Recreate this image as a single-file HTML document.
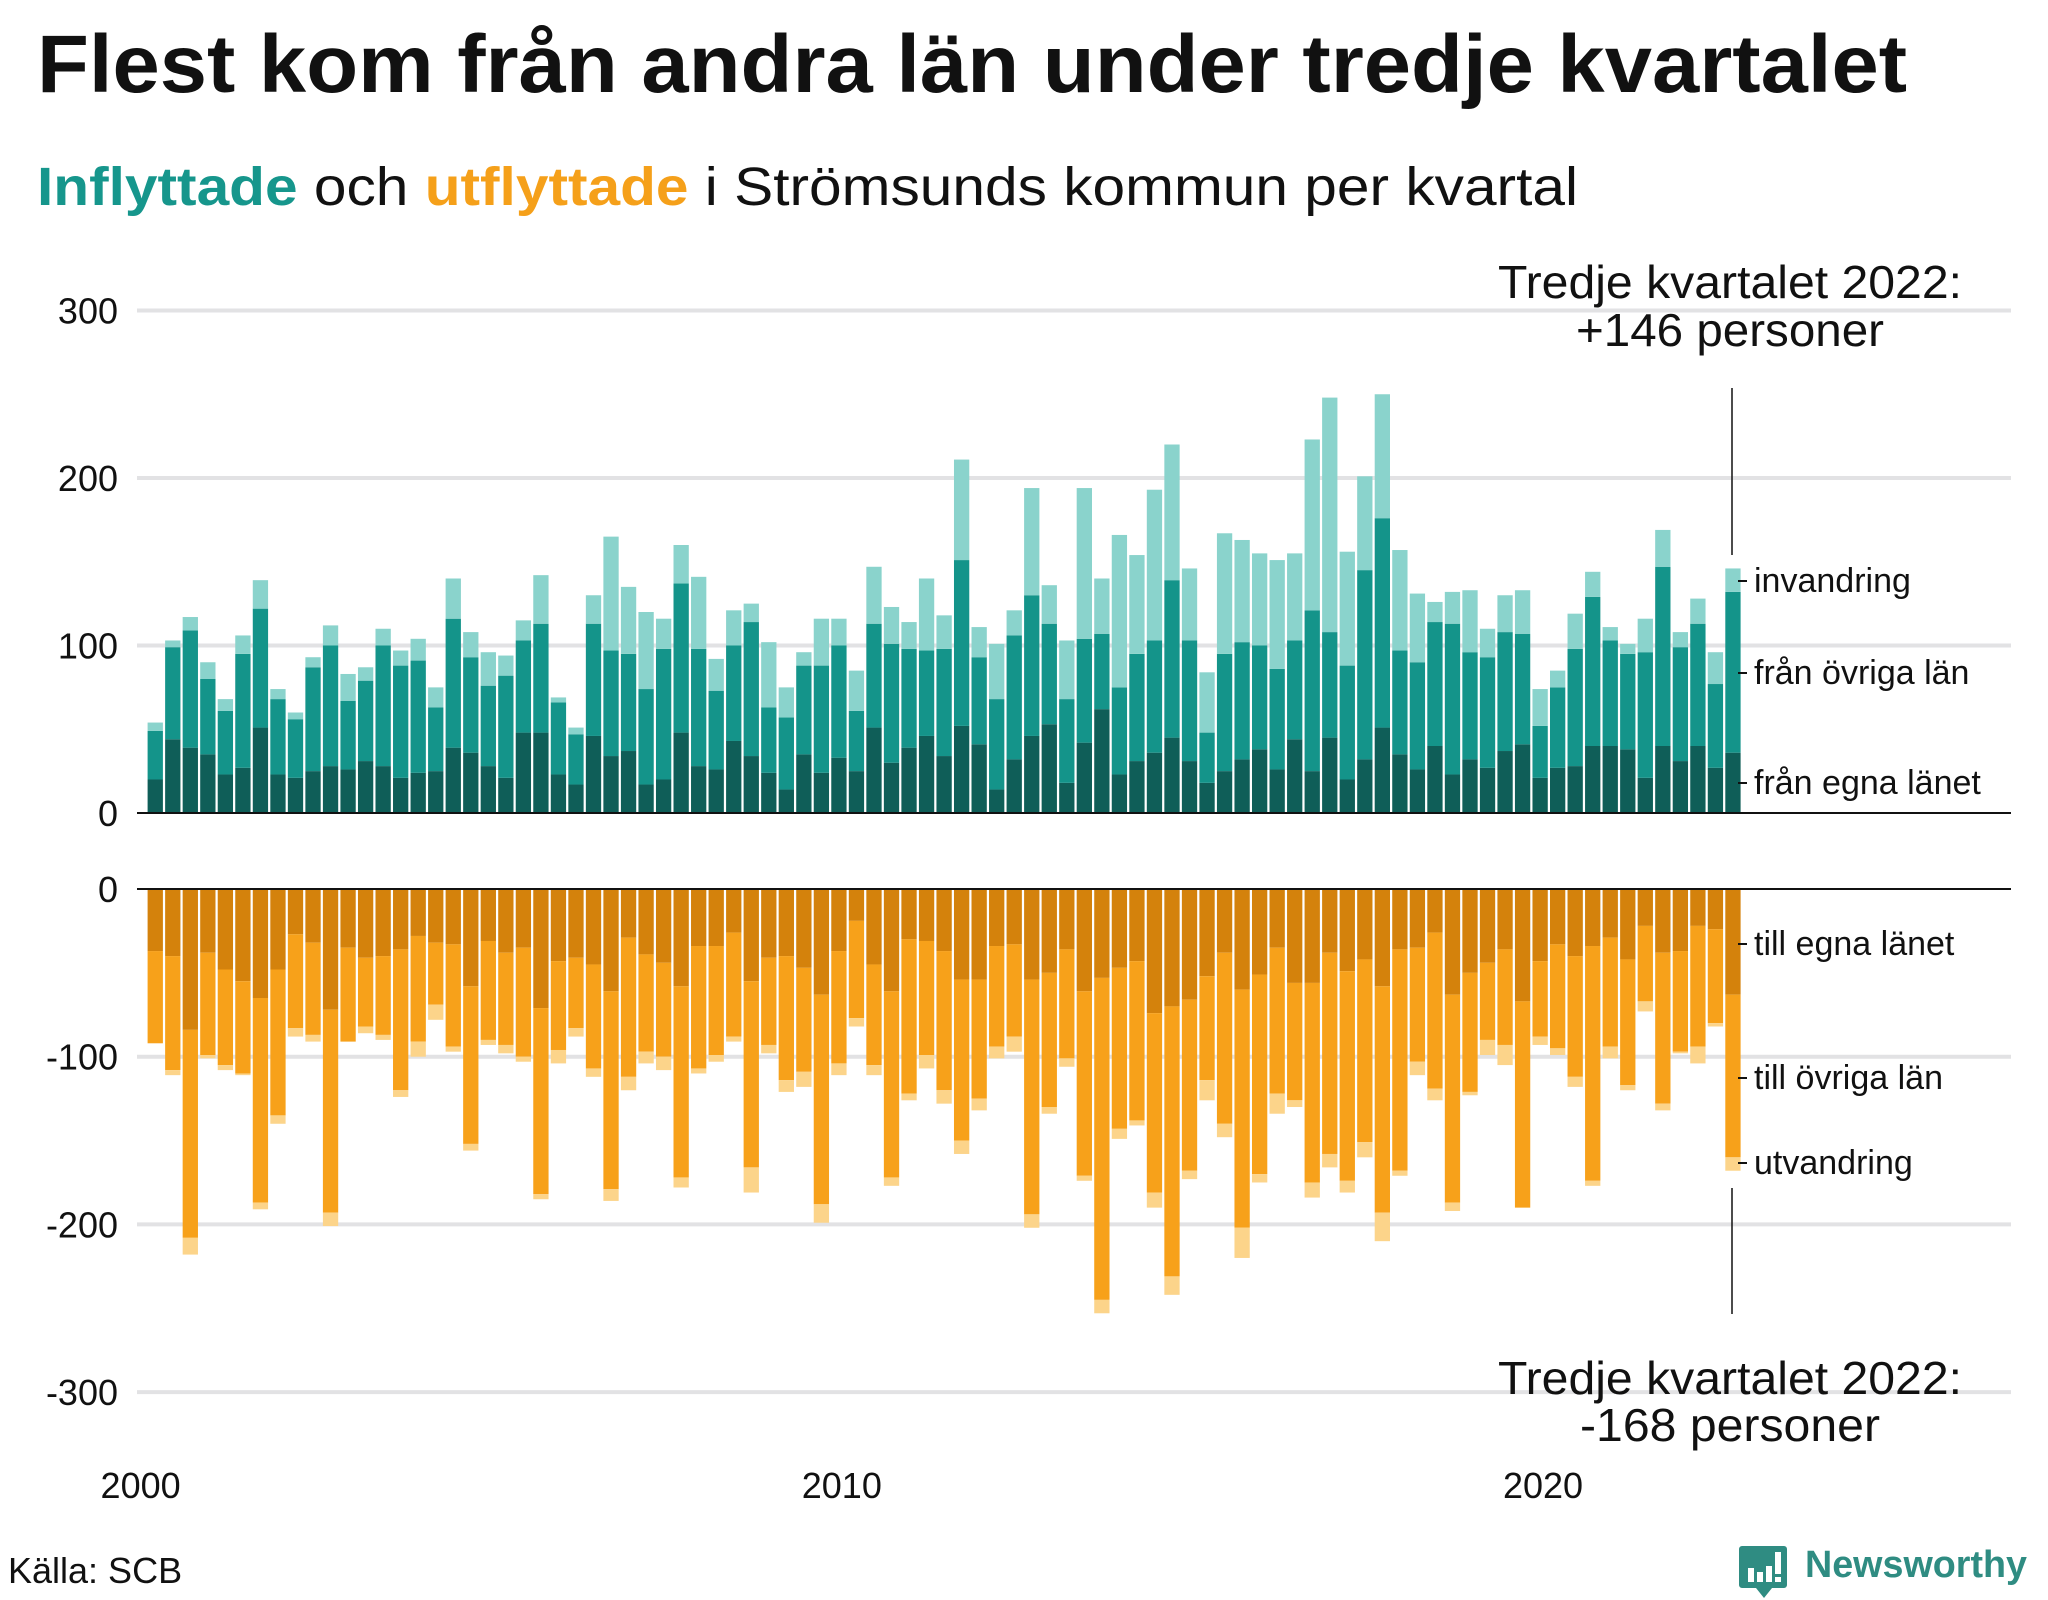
<!DOCTYPE html>
<html><head><meta charset="utf-8">
<style>
html,body{margin:0;padding:0;background:#fff;}
svg{display:block;font-family:"Liberation Sans",sans-serif;}
</style></head>
<body>
<svg id="chart" width="2048" height="1600" viewBox="0 0 2048 1600" xmlns="http://www.w3.org/2000/svg">
<text x="37" y="92" font-size="82" font-weight="bold" fill="#111" textLength="1870" lengthAdjust="spacingAndGlyphs">Flest kom från andra län under tredje kvartalet</text>
<text x="37" y="205" font-size="54" fill="#111" textLength="1541" lengthAdjust="spacingAndGlyphs"><tspan fill="#16968c" font-weight="bold">Inflyttade</tspan> och <tspan fill="#f5a01a" font-weight="bold">utflyttade</tspan> i Strömsunds kommun per kvartal</text>
<g id="grid"></g>
<g id="bars"></g>
<g id="axes"></g>
<g font-size="46" fill="#111" text-anchor="middle">
<text x="1730" y="298" textLength="464" lengthAdjust="spacingAndGlyphs">Tredje kvartalet 2022:</text>
<text x="1730" y="346" textLength="308" lengthAdjust="spacingAndGlyphs">+146 personer</text>
</g>
<line x1="1732" y1="388" x2="1732" y2="555" stroke="#111" stroke-width="1.5"/>
<g font-size="46" fill="#111" text-anchor="middle">
<text x="1730" y="1394" textLength="464" lengthAdjust="spacingAndGlyphs">Tredje kvartalet 2022:</text>
<text x="1730" y="1441" textLength="300" lengthAdjust="spacingAndGlyphs">-168 personer</text>
</g>
<line x1="1732" y1="1188" x2="1732" y2="1314" stroke="#111" stroke-width="1.5"/>
<g id="series-labels" font-size="34" fill="#111"></g>
<text x="8" y="1583" font-size="36" fill="#111">Källa: SCB</text>
<g>
<path d="M1742 1546 h42 a3 3 0 0 1 3 3 v36 a3 3 0 0 1 -3 3 h-12 l-8 10 l-8 -10 h-14 a3 3 0 0 1 -3 -3 v-36 a3 3 0 0 1 3 -3z" fill="#2f8c82"/>
<rect x="1748" y="1568" width="6" height="14" fill="#fff"/>
<rect x="1757" y="1572" width="6" height="10" fill="#fff"/>
<rect x="1766" y="1566" width="6" height="16" fill="#fff"/>
<rect x="1775" y="1552" width="6" height="22" fill="#fff"/>
<rect x="1775" y="1577" width="6" height="5" fill="#fff"/>
<text x="1805" y="1577" font-size="38" font-weight="bold" fill="#2f8c82" textLength="222" lengthAdjust="spacingAndGlyphs">Newsworthy</text>
</g>
</svg>
<script>
const inEgna =       [20,44,39,35, 23,27,51,23, 21,25,28,26, 31,28,21,24, 25,39,36,28, 21,48,48,23, 17,46,34,37, 17,20,48,28, 26,43,34,24, 14,35,24,33, 25,51,30,39, 46,34,52,41, 14,32,46,53, 18,42,62,23, 31,36,45,31, 18,25,32,38, 26,44,25,45, 20,32,51,35, 26,40,23,32, 27,37,41,21, 27,28,40,40, 38,21,40,31, 40,27,36];
const inEgnaOvriga = [49,99,109,80, 61,95,122,68, 56,87,100,67, 79,100,88,91, 63,116,93,76, 82,103,113,66, 47,113,97,95, 74,98,137,98, 73,100,114,63, 57,88,88,100, 61,113,101,98, 97,98,151,93, 68,106,130,113, 68,104,107,75, 95,103,139,103, 48,95,102,100, 86,103,121,108, 88,145,176,97, 90,114,113,96, 93,108,107,52, 75,98,129,103, 95,96,147,99, 113,77,132];
const inTotal =      [54,103,117,90, 68,106,139,74, 60,93,112,83, 87,110,97,104, 75,140,108,96, 94,115,142,69, 51,130,165,135, 120,116,160,141, 92,121,125,102, 75,96,116,116, 85,147,123,114, 140,118,211,111, 101,121,194,136, 103,194,140,166, 154,193,220,146, 84,167,163,155, 151,155,223,248, 156,201,250,157, 131,126,132,133, 110,130,133,74, 85,119,144,111, 101,116,169,108, 128,96,146];
const utEgna =       [37,40,84,38, 48,55,65,48, 27,32,72,35, 41,40,36,28, 32,33,58,31, 38,35,71,43, 41,45,61,29, 39,44,58,34, 34,26,55,41, 40,47,63,37, 19,45,61,30, 31,37,54,54, 34,33,54,50, 36,61,53,47, 43,74,70,66, 52,38,60,51, 35,56,56,38, 49,42,58,36, 35,26,63,50, 44,36,67,43, 33,40,34,29, 42,22,38,37, 22,24,63];
const utEgnaOvriga = [92,108,208,99, 105,110,187,135, 83,87,193,91, 82,87,120,91, 69,94,152,90, 93,100,182,96, 83,107,179,112, 97,100,172,107, 99,88,166,93, 114,109,188,104, 77,105,172,122, 99,120,150,125, 94,88,194,130, 101,171,245,143, 138,181,231,168, 114,140,202,170, 122,126,175,158, 174,151,193,168, 103,119,187,121, 90,93,190,88, 95,112,174,94, 117,67,128,97, 94,80,160];
const utTotal =      [92,111,218,101, 108,111,191,140, 88,91,201,91, 86,90,124,100, 78,97,156,93, 98,103,185,104, 88,112,186,120, 104,108,178,110, 103,91,181,98, 121,118,199,111, 82,111,177,126, 107,128,158,132, 101,97,202,134, 106,174,253,149, 141,190,242,173, 126,148,220,175, 134,130,184,166, 181,160,210,171, 111,126,192,123, 99,105,190,93, 99,118,177,101, 120,73,132,98, 104,82,168];
const yTicksTop = [0,100,200,300];
const yTicksBottom = [0,-100,-200,-300];
const xTickYears = [2000,2010,2020];
const labelsTop = [["invandring",581],["från övriga län",673],["från egna länet",783]];
const labelsBottom = [["till egna länet",944],["till övriga län",1078],["utvandring",1163]];

const NS="http://www.w3.org/2000/svg";
const X0=147.6, STEP=17.53, BW=15.3;
const yTop = v => 813 - v*1.675;
const yBot = v => 889 + v*1.677;
const xBar = i => X0 + i*STEP;
const xYear = y => X0 + (y-2000)*4*STEP - 7;
function mk(tag, attrs, parent){const e=document.createElementNS(NS,tag);for(const k in attrs)e.setAttribute(k,attrs[k]);parent.appendChild(e);return e;}
const grid=document.getElementById('grid'), bars=document.getElementById('bars'), axes=document.getElementById('axes'), sl=document.getElementById('series-labels');

yTicksTop.forEach(v=>{
  if(v!==0){const l=mk('line',{x1:137,x2:2011,y1:yTop(v),y2:yTop(v),stroke:'#e2e2e4','stroke-width':4},grid);
  
  }
  const t=mk('text',{x:118,y:yTop(v)+13,'font-size':36,'text-anchor':'end',fill:'#111'},axes);
  t.textContent=String(v);
  
  
});
yTicksBottom.forEach(v=>{
  if(v!==0){const l=mk('line',{x1:137,x2:2011,y1:yBot(-v),y2:yBot(-v),stroke:'#e2e2e4','stroke-width':4},grid);
  
  }
  const t=mk('text',{x:118,y:yBot(-v)+13,'font-size':36,'text-anchor':'end',fill:'#111'},axes);
  t.textContent=String(v);
  
  
});
function stack(i,vals,cols,yf,name){
  let prev=0;
  vals.forEach((v,k)=>{
    const a=yf(prev), b=yf(v);
    const r=mk('rect',{x:xBar(i),y:Math.min(a,b),width:BW,height:Math.abs(b-a),fill:cols[k]},bars);
    
    
    prev=v;
  });
}
inTotal.forEach((_,i)=>{
  stack(i,[inEgna[i],inEgnaOvriga[i],inTotal[i]],['#0f5e58','#14948a','#8ad3cc'],yTop,'inflow-bar');
  stack(i,[utEgna[i],utEgnaOvriga[i],utTotal[i]],['#d4820c','#f7a11a','#fcd48a'],yBot,'outflow-bar');
});
const z1=mk('line',{x1:137,x2:2011,y1:yTop(0),y2:yTop(0),stroke:'#111','stroke-width':2},axes);


const z2=mk('line',{x1:137,x2:2011,y1:yBot(0),y2:yBot(0),stroke:'#111','stroke-width':2},axes);


xTickYears.forEach(y=>{
  const t=mk('text',{x:xYear(y),y:1498,'font-size':36,'text-anchor':'middle',fill:'#111'},axes);
  t.textContent=String(y);
  
  
});
labelsTop.concat(labelsBottom).forEach(([s,y])=>{
  const tk=mk('line',{x1:1738,x2:1747,y1:y,y2:y,stroke:'#111','stroke-width':2},sl);
  
  
  const t=mk('text',{x:1754,y:y+11},sl);
  t.textContent=s;
  
  
});
</script>
</body></html>
